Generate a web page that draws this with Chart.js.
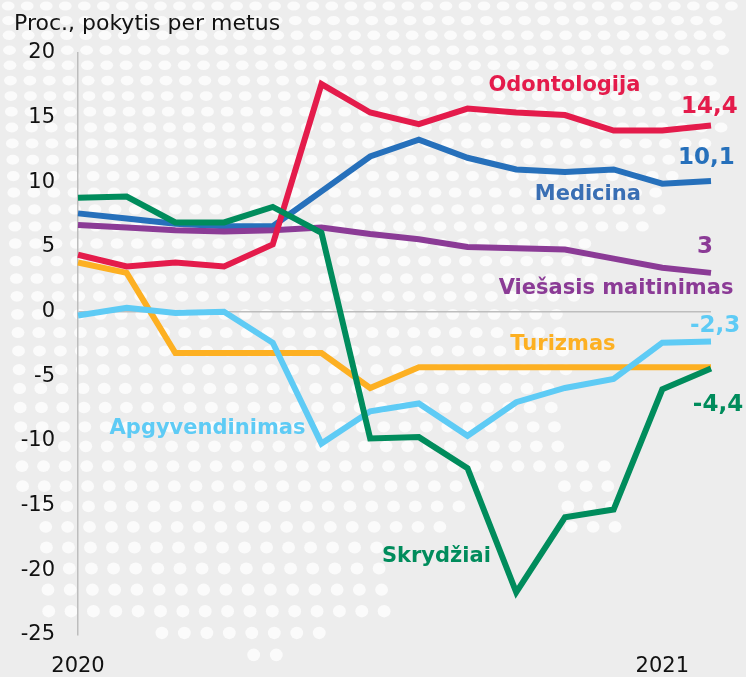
<!DOCTYPE html>
<html>
<head>
<meta charset="utf-8">
<script src="https://cdn.jsdelivr.net/npm/chart.js@4"></script>
<style>
html,body{margin:0;padding:0;background:#ededed;}
#wrap{width:746px;height:677px;position:relative;}
</style>
</head>
<body>
<div id="wrap"><canvas id="c" width="746" height="677"></canvas></div>
<script>
// ---- Data ----
const months = ['2020-01','2020-02','2020-03','2020-04','2020-05','2020-06','2020-07','2020-08','2020-09','2020-10','2020-11','2020-12','2021-01','2021-02'];
const xTickLabels = ['2020','','','','','','','','','','','','2021',''];
const odontologija   = [4.4, 3.5, 3.8, 3.5, 5.2, 17.6, 15.4, 14.5, 15.7, 15.4, 15.2, 14.0, 14.0, 14.4];
const medicina       = [7.6, 7.2, 6.8, 6.6, 6.6, 9.3, 12.0, 13.3, 11.9, 11.0, 10.8, 11.0, 9.9, 10.1];
const viesasis       = [6.7, 6.5, 6.3, 6.2, 6.3, 6.5, 6.0, 5.6, 5.0, 4.9, 4.8, 4.1, 3.4, 3.0];
const turizmas       = [3.8, 3.0, -3.2, -3.2, -3.2, -3.2, -5.9, -4.3, -4.3, -4.3, -4.3, -4.3, -4.3, -4.3];
const apgyvendinimas = [-0.3, 0.3, -0.1, 0.0, -2.4, -10.2, -7.7, -7.1, -9.6, -7.0, -5.9, -5.2, -2.4, -2.3];
const skrydziai      = [8.8, 8.9, 6.9, 6.9, 8.1, 6.1, -9.8, -9.7, -12.1, -21.7, -15.9, -15.3, -6.0, -4.4];
const yTickValues = [20, 15, 10, 5, 0, -5, -10, -15, -20, -25];

const COLORS = {
  red: '#e41b4b', blue: '#2670bb', purple: '#8b3b96',
  orange: '#fdb022', light: '#5ecbf5', green: '#008c5c'
};

// annotation texts (placed in data units)
const annotations = [
  {text:'Odontologija', xi:9.99, v:17.08, color:COLORS.red, size:21, align:'center'},
  {text:'14,4', xi:13.55, v:15.37, color:COLORS.red, size:23, align:'right'},
  {text:'10,1', xi:13.49, v:11.42, color:COLORS.blue, size:23, align:'right'},
  {text:'Medicina', xi:10.47, v:8.64, color:'#3a6fb4', size:21, align:'center'},
  {text:'3', xi:13.04, v:4.54, color:COLORS.purple, size:23, align:'right'},
  {text:'Viešasis maitinimas', xi:11.05, v:1.37, color:COLORS.purple, size:21, align:'center'},
  {text:'-2,3', xi:13.6, v:-1.61, color:COLORS.light, size:23, align:'right'},
  {text:'Turizmas', xi:9.96, v:-2.96, color:COLORS.orange, size:21, align:'center'},
  {text:'-4,4', xi:13.66, v:-7.68, color:COLORS.green, size:23, align:'right'},
  {text:'Apgyvendinimas', xi:2.66, v:-9.46, color:COLORS.light, size:21, align:'center'},
  {text:'Skrydžiai', xi:7.36, v:-19.36, color:COLORS.green, size:21, align:'center'}
];

// ---- decorative dotted background ----
const dotMask = [[0,0],[740,0],[724,20],[722,150],[690,170],[668,190],[668,215],[652,230],[598,240],[598,290],[572,305],[566,460],[604,462],[622,490],[622,540],[560,540],[556,482],[490,486],[470,515],[450,538],[388,545],[388,612],[362,632],[302,634],[298,655],[252,655],[250,634],[48,632],[28,610],[25,500],[0,480]];
function inPoly(x,y,poly){
  let inside=false;
  for(let i=0,j=poly.length-1;i<poly.length;j=i++){
    const xi=poly[i][0], yi=poly[i][1], xj=poly[j][0], yj=poly[j][1];
    if(((yi>y)!==(yj>y)) && (x < (xj-xi)*(y-yi)/(yj-yi)+xi)) inside=!inside;
  }
  return inside;
}
const backgroundPlugin = {
  id:'bg',
  beforeDraw(chart){
    const ctx = chart.ctx;
    ctx.save();
    ctx.fillStyle = '#ededed';
    ctx.fillRect(0,0,chart.width,chart.height);
    ctx.fillStyle = '#fbfbfb';
    let y = 6;
    while (y < 670){
      const sp = 19 + y*0.0055;
      const ry = 4.6 + y*0.0026;
      let x = 8 + (y*0.03) % sp;
      while (x < 746){
        if (inPoly(x,y,dotMask)){
          ctx.beginPath();
          ctx.ellipse(x,y,6.4,ry,0,0,Math.PI*2);
          ctx.fill();
        }
        x += sp;
      }
      y += 14.5 + y*0.0118;
    }
    // title
    ctx.fillStyle = '#111';
    ctx.font = '22px "DejaVu Sans"';
    ctx.textAlign = 'left';
    ctx.textBaseline = 'alphabetic';
    ctx.fillText('Proc., pokytis per metus', 14, 30);
    ctx.restore();
  }
};
const labelPlugin = {
  id:'labels',
  afterDatasetsDraw(chart){
    const ctx = chart.ctx, xs = chart.scales.x, ys = chart.scales.y;
    ctx.save();
    ctx.textBaseline = 'alphabetic';
    annotations.forEach(a=>{
      const x0 = xs.getPixelForValue(0), x1 = xs.getPixelForValue(1);
      const px = x0 + (x1-x0)*a.xi;
      const py = ys.getPixelForValue(a.v);
      ctx.font = 'bold ' + a.size + 'px "DejaVu Sans"';
      ctx.fillStyle = a.color;
      ctx.textAlign = a.align;
      ctx.fillText(a.text, px, py);
    });
    ctx.restore();
  }
};

function ds(label, data, color, order){
  return {label, data, borderColor: color, backgroundColor: color, borderWidth: 6,
    pointRadius: 0, pointHoverRadius: 0, tension: 0, fill: false, order,
    borderJoinStyle: 'miter', borderCapStyle: 'butt'};
}

new Chart(document.getElementById('c'), {
  type: 'line',
  data: {
    labels: months,
    datasets: [
      ds('Skrydžiai', skrydziai, COLORS.green, 0),
      ds('Odontologija', odontologija, COLORS.red, 1),
      ds('Viešasis maitinimas', viesasis, COLORS.purple, 2),
      ds('Medicina', medicina, COLORS.blue, 3),
      ds('Apgyvendinimas', apgyvendinimas, COLORS.light, 4),
      ds('Turizmas', turizmas, COLORS.orange, 5)
    ]
  },
  options: {
    responsive: false,
    animation: false,
    events: [],
    layout: { padding: { top: 53, right: 35, left: 0, bottom: 0 } },
    plugins: { legend: { display: false }, tooltip: { enabled: false }, title: { display: false } },
    scales: {
      x: {
        type: 'category',
        offset: false,
        grid: { display: false, drawTicks: false },
        border: { display: false },
        ticks: {
          autoSkip: false, maxRotation: 0, minRotation: 0, padding: 19,
          color: '#111', font: { family: 'DejaVu Sans', size: 21 },
          callback: (v, i) => xTickLabels[i]
        },
        afterFit: s => { s.height = 42; }
      },
      y: {
        min: -25, max: 20,
        afterBuildTicks: s => { s.ticks = yTickValues.map(v => ({ value: v })); },
        grid: {
          drawTicks: false,
          color: c => (c.tick && c.tick.value === 0) ? '#bdbdbd' : 'rgba(0,0,0,0)',
          lineWidth: 1.5
        },
        border: { display: true, color: '#bdbdbd', width: 1.5 },
        ticks: {
          padding: 23, color: '#111', font: { family: 'DejaVu Sans', size: 21 },
          callback: v => String(v)
        },
        afterFit: s => { s.width = 78; }
      }
    }
  },
  plugins: [backgroundPlugin, labelPlugin]
});
</script>
</body>
</html>
